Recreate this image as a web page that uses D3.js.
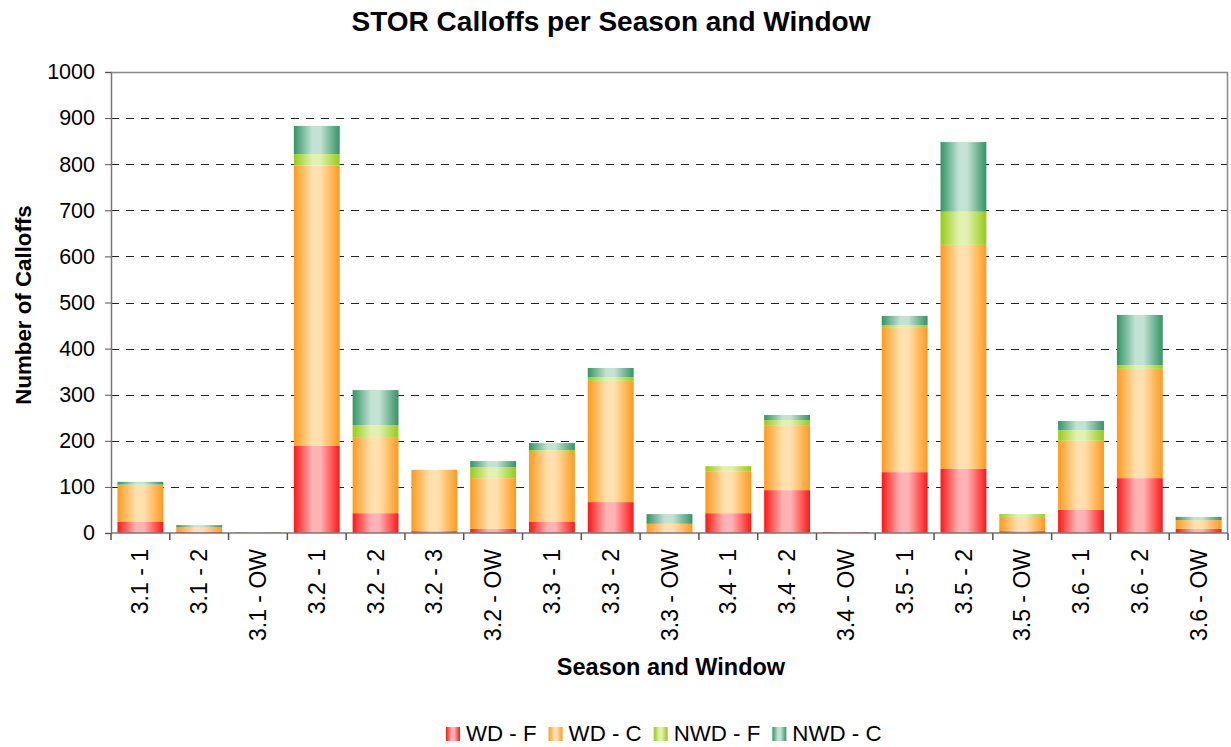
<!DOCTYPE html>
<html>
<head>
<meta charset="utf-8">
<script src="https://cdn.jsdelivr.net/npm/d3@7"></script>
<style>
  body { margin: 0; background: #fff; }
  text { font-family: "Liberation Sans", Arial, sans-serif; }
</style>
</head>
<body>
<div id="chart"></div>
<script>
var categories = ["3.1 - 1", "3.1 - 2", "3.1 - OW", "3.2 - 1", "3.2 - 2", "3.2 - 3", "3.2 - OW",
  "3.3 - 1", "3.3 - 2", "3.3 - OW", "3.4 - 1", "3.4 - 2", "3.4 - OW", "3.5 - 1", "3.5 - 2",
  "3.5 - OW", "3.6 - 1", "3.6 - 2", "3.6 - OW"];
var seriesNames = ["WD - F", "WD - C", "NWD - F", "NWD - C"];
var wdF  = [24, 2, 0, 189, 43, 4, 9, 24, 67, 1, 43, 93, 2, 132, 139, 4, 50, 119, 9];
var wdC  = [80, 11, 2, 608, 165, 133, 110, 154, 263, 19, 91, 141, 0, 313, 486, 31, 150, 237, 19];
var nwdF = [1, 0, 0, 25, 26, 0, 24, 2, 8, 0, 11, 11, 0, 6, 72, 6, 23, 8, 0];
var nwdC = [6, 4, 0, 61, 76, 0, 13, 15, 20, 21, 0, 11, 0, 20, 151, 0, 20, 109, 7];
var yTicks = [0, 100, 200, 300, 400, 500, 600, 700, 800, 900, 1000];

var width = 1231, height = 747;
var margin = {left: 111, right: 3, top: 72, bottom: 214};

var colors = [
  {dark: "#ff1616", light: "#ffb2b4"},
  {dark: "#ff9a1c", light: "#ffe0ae"},
  {dark: "#96cc14", light: "#e2f0b0"},
  {dark: "#339466", light: "#c2e2d4"}
];

var rows = categories.map(function(c, i) {
  return {cat: c, "WD - F": wdF[i], "WD - C": wdC[i], "NWD - F": nwdF[i], "NWD - C": nwdC[i]};
});

var svg = d3.select("#chart").append("svg")
  .attr("width", width).attr("height", height);

var defs = svg.append("defs");
colors.forEach(function(c, i) {
  var g = defs.append("linearGradient").attr("id", "grad" + i)
    .attr("x1", 0).attr("x2", 1).attr("y1", 0).attr("y2", 0);
  g.append("stop").attr("offset", "0%").attr("stop-color", c.dark);
  g.append("stop").attr("offset", "40%").attr("stop-color", c.light);
  g.append("stop").attr("offset", "58%").attr("stop-color", c.light);
  g.append("stop").attr("offset", "100%").attr("stop-color", c.dark);
});

var x = d3.scaleBand().domain(categories)
  .range([margin.left, width - margin.right]).paddingInner(0.22).paddingOuter(0.11);
var y = d3.scaleLinear().domain([0, 1000]).range([height - margin.bottom, margin.top]);

// grid
svg.append("g").selectAll("line")
  .data(yTicks.filter(function(d) { return d > 0 && d < 1000; }))
  .enter().append("line")
  .attr("x1", margin.left).attr("x2", width - margin.right)
  .attr("y1", function(d) { return Math.round(y(d)) + 0.5; })
  .attr("y2", function(d) { return Math.round(y(d)) + 0.5; })
  .attr("stroke", "#222").attr("stroke-width", 1)
  .attr("stroke-dasharray", "8,7");

// plot border (top/right)
svg.append("path")
  .attr("d", "M" + margin.left + "," + (Math.round(y(1000)) + 0.5) + "H" + (width - margin.right - 0.5) +
    "V" + y(0))
  .attr("fill", "none").attr("stroke", "#888").attr("stroke-width", 1.5);

// bars
var stack = d3.stack().keys(seriesNames);
var layers = stack(rows);

svg.append("g").selectAll("g")
  .data(layers).enter().append("g")
  .attr("fill", function(d, i) { return "url(#grad" + i + ")"; })
  .selectAll("rect")
  .data(function(d) { return d; })
  .enter().append("rect")
  .attr("x", function(d) { return x(d.data.cat); })
  .attr("width", x.bandwidth())
  .attr("y", function(d) { return y(d[1]); })
  .attr("height", function(d) { return y(d[0]) - y(d[1]); });

// y axis
var yAxis = d3.axisLeft(y).tickValues(yTicks).tickFormat(d3.format("d")).tickSize(6).tickPadding(10);
var yg = svg.append("g").attr("transform", "translate(" + margin.left + ",0)").call(yAxis);
yg.select(".domain").attr("stroke", "#777").attr("stroke-width", 1.5);
yg.selectAll(".tick line").attr("stroke", "#555");
yg.selectAll(".tick text").attr("font-size", "21.5px").attr("fill", "#000")
  .style("font-family", "'Liberation Sans', Arial, sans-serif");

// x axis
var y0 = y(0);
svg.append("line")
  .attr("x1", margin.left).attr("x2", width - margin.right)
  .attr("y1", y0).attr("y2", y0)
  .attr("stroke", "#777").attr("stroke-width", 1.5);
var tickXs = d3.range(categories.length + 1).map(function(i) {
  return margin.left + (width - margin.right - margin.left) * i / categories.length;
});
svg.append("g").selectAll("line").data(tickXs).enter().append("line")
  .attr("x1", function(d) { return d; }).attr("x2", function(d) { return d; })
  .attr("y1", y0).attr("y2", y0 + 7)
  .attr("stroke", "#555").attr("stroke-width", 1.5);

svg.append("g").selectAll("text").data(categories).enter().append("text")
  .attr("transform", function(d) {
    return "translate(" + (x(d) + x.bandwidth() / 2) + "," + (y0 + 16) + ") rotate(-90)";
  })
  .attr("text-anchor", "end").attr("dy", "0.35em")
  .attr("font-size", "23px").attr("fill", "#000")
  .text(function(d) { return d; });

// titles
svg.append("text").attr("x", 611).attr("y", 31).attr("text-anchor", "middle")
  .attr("font-size", "28px").attr("font-weight", "bold").text("STOR Calloffs per Season and Window");
svg.append("text").attr("x", 671).attr("y", 675).attr("text-anchor", "middle")
  .attr("font-size", "23.5px").attr("font-weight", "bold").text("Season and Window");
svg.append("text").attr("transform", "translate(31,305) rotate(-90)")
  .attr("text-anchor", "middle")
  .attr("font-size", "22.3px").attr("font-weight", "bold").text("Number of Calloffs");

// legend
var legend = svg.append("g");
var lx = 446;
seriesNames.forEach(function(s, i) {
  legend.append("rect").attr("x", lx).attr("y", 727).attr("width", 14).attr("height", 14)
    .attr("fill", "url(#grad" + i + ")");
  var t = legend.append("text").attr("x", lx + 20).attr("y", 741)
    .attr("font-size", "22.3px").attr("fill", "#000").text(s);
  lx += 20 + t.node().getComputedTextLength() + 12;
});
</script>
</body>
</html>
